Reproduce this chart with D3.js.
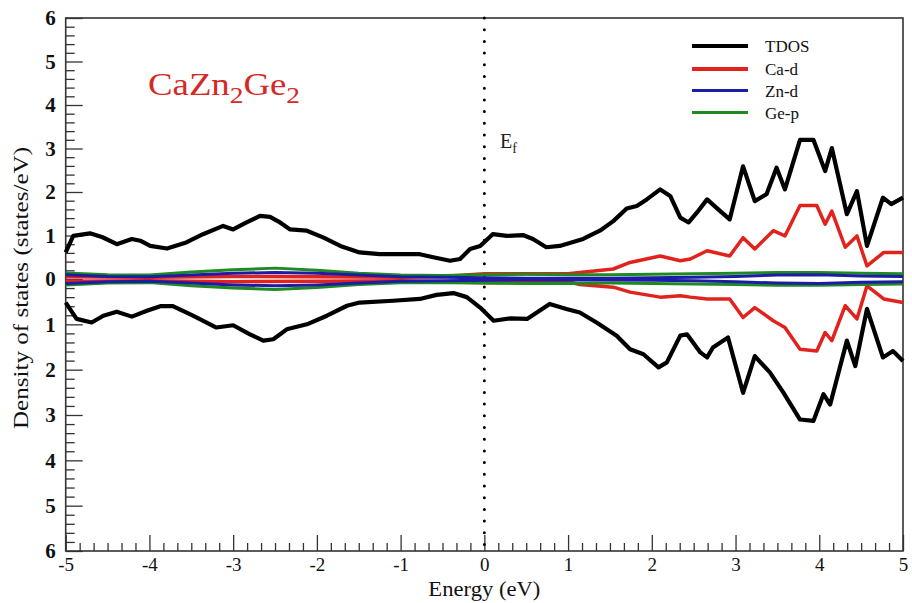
<!DOCTYPE html>
<html>
<head>
<meta charset="utf-8">
<script src="https://cdn.jsdelivr.net/npm/d3@7"></script>
<style>
  html, body { margin: 0; padding: 0; background: #fff; }
  svg { display: block; }
  svg text { font-family: "Liberation Serif", "Times New Roman", serif !important; }
</style>
</head>
<body>
<svg id="chart" width="912" height="603"></svg>
<script>
// Spin-resolved density of states of CaZn2Ge2 (spin up positive, spin down negative)

// Total DOS, spin up
const tdosUpE = [-5.0,-4.91,-4.71,-4.56,-4.39,-4.21,-4.11,-3.99,-3.79,-3.56,-3.36,-3.12,-3.00,-2.84,-2.68,-2.56,-2.44,-2.32,-2.12,-1.92,-1.72,-1.49,-1.25,-0.77,-0.61,-0.41,-0.29,-0.17,-0.05,0.10,0.27,0.46,0.58,0.74,0.90,1.18,1.38,1.54,1.70,1.82,1.94,2.10,2.22,2.34,2.44,2.54,2.66,2.77,2.93,3.09,3.23,3.37,3.49,3.59,3.77,3.93,4.07,4.15,4.33,4.45,4.57,4.76,4.86,5.0];
const tdosUp = [0.61,0.99,1.05,0.96,0.80,0.92,0.88,0.76,0.70,0.84,1.03,1.22,1.14,1.30,1.45,1.43,1.30,1.14,1.11,0.95,0.76,0.61,0.57,0.57,0.50,0.42,0.46,0.69,0.76,1.03,0.99,1.01,0.92,0.73,0.76,0.92,1.11,1.33,1.62,1.68,1.83,2.06,1.91,1.41,1.30,1.53,1.83,1.64,1.37,2.59,1.79,1.95,2.56,2.06,3.20,3.20,2.48,3.01,1.49,2.02,0.76,1.87,1.72,1.87];

// Total DOS, spin down
const tdosDnE = [-5.0,-4.87,-4.69,-4.55,-4.39,-4.21,-4.03,-3.87,-3.72,-3.48,-3.20,-3.00,-2.80,-2.64,-2.52,-2.36,-2.12,-1.88,-1.64,-1.49,-1.09,-0.77,-0.57,-0.37,-0.21,-0.05,0.11,0.31,0.51,0.78,0.98,1.14,1.34,1.58,1.74,1.90,2.08,2.18,2.34,2.42,2.58,2.66,2.73,2.91,3.09,3.23,3.41,3.57,3.77,3.93,4.05,4.13,4.33,4.43,4.57,4.76,4.88,5.0];
const tdosDn = [-0.52,-0.88,-0.96,-0.81,-0.72,-0.83,-0.70,-0.60,-0.60,-0.81,-1.07,-1.02,-1.22,-1.36,-1.33,-1.11,-1.00,-0.81,-0.59,-0.52,-0.48,-0.44,-0.35,-0.31,-0.40,-0.63,-0.92,-0.87,-0.88,-0.55,-0.66,-0.74,-0.96,-1.25,-1.55,-1.66,-1.95,-1.84,-1.25,-1.22,-1.62,-1.73,-1.51,-1.29,-2.51,-1.70,-2.06,-2.50,-3.10,-3.13,-2.54,-2.77,-1.36,-1.92,-0.66,-1.73,-1.59,-1.81];

// Ca-d partial DOS
const caE = [-5.0,-4.0,-3.0,-2.0,-1.0,-0.5,0.0,0.5,1.0,1.14,1.54,1.74,2.10,2.34,2.46,2.66,2.93,3.09,3.23,3.45,3.59,3.77,3.97,4.07,4.15,4.31,4.45,4.57,4.77,5.0];
const caUp = [0.05,0.04,0.06,0.05,0.04,0.06,0.12,0.12,0.12,0.15,0.23,0.38,0.53,0.42,0.46,0.65,0.53,0.95,0.69,1.11,0.99,1.69,1.69,1.26,1.56,0.73,0.99,0.30,0.61,0.61];
const caDn = [-0.05,-0.04,-0.06,-0.05,-0.04,-0.06,-0.08,-0.08,-0.06,-0.12,-0.18,-0.29,-0.40,-0.37,-0.40,-0.44,-0.44,-0.85,-0.63,-0.92,-1.07,-1.55,-1.59,-1.18,-1.36,-0.59,-0.88,-0.15,-0.44,-0.52];

// Zn-d and Ge-p partial DOS on a 0.5 eV grid
const pdosE = [-5.0,-4.5,-4.0,-3.5,-3.0,-2.5,-2.0,-1.5,-1.0,-0.5,0.0,0.5,1.0,1.5,2.0,2.5,3.0,3.5,4.0,4.5,5.0];
const znUp = [0.10,0.06,0.05,0.09,0.13,0.15,0.13,0.09,0.05,0.04,0.03,0.02,0.02,0.02,0.03,0.04,0.06,0.09,0.10,0.07,0.06];
const znDn = [-0.10,-0.06,-0.05,-0.09,-0.13,-0.15,-0.13,-0.09,-0.05,-0.04,-0.03,-0.02,-0.02,-0.02,-0.03,-0.04,-0.06,-0.09,-0.10,-0.07,-0.06];
const geUp = [0.14,0.10,0.09,0.16,0.21,0.25,0.20,0.13,0.09,0.08,0.10,0.11,0.10,0.10,0.11,0.12,0.13,0.15,0.15,0.13,0.12];
const geDn = [-0.13,-0.09,-0.08,-0.15,-0.20,-0.23,-0.19,-0.12,-0.08,-0.08,-0.09,-0.10,-0.10,-0.09,-0.10,-0.11,-0.12,-0.14,-0.14,-0.12,-0.11];

// Axis ticks
const xTicks = [-5,-4,-3,-2,-1,0,1,2,3,4,5];
const yTicks = [-6,-5,-4,-3,-2,-1,0,1,2,3,4,5,6];

// Legend entries
const legendNames = ["TDOS", "Ca-d", "Zn-d", "Ge-p"];
const legendColors = ["#000000", "#e2231d", "#1c1ca6", "#1f8a22"];

const serif = '"Liberation Serif", "Times New Roman", serif';
const svg = d3.select("#chart");
const plotL = 65.7, plotR = 903, plotT = 18, plotB = 551;

const x = d3.scaleLinear().domain([-5, 5]).range([plotL, plotR]);
const y = d3.scaleLinear().domain([-6, 0, 6]).range([plotB, 279, plotT]);

// minor ticks
const xMinor = d3.range(-5, 5.0001, 1 / 6).filter(v => Math.abs(v - Math.round(v)) > 1e-6);
const yMinor = d3.range(-6, 6.0001, 0.2).filter(v => Math.abs(v - Math.round(v)) > 1e-6);

const axisColor = "#333";

svg.append("g")
  .attr("transform", `translate(0,${plotB})`)
  .call(d3.axisBottom(x).tickValues(xMinor).tickSizeInner(-8).tickSizeOuter(0).tickFormat(""))
  .call(g => g.select(".domain").remove())
  .call(g => g.selectAll("line").attr("stroke", axisColor).attr("stroke-width", 1.3));

svg.append("g")
  .attr("transform", `translate(0,${plotB})`)
  .call(d3.axisBottom(x).tickValues(xTicks).tickSizeInner(-16).tickSizeOuter(0).tickPadding(5)
    .tickFormat(d => d))
  .call(g => g.select(".domain").remove())
  .call(g => g.selectAll("line").attr("stroke", axisColor).attr("stroke-width", 1.3))
  .call(g => g.selectAll("text")
    .style("font-family", serif).style("font-size", "19px").attr("fill", "#111")
    .attr("dy", "0.8em"));

svg.append("g")
  .attr("transform", `translate(${plotL},0)`)
  .call(d3.axisLeft(y).tickValues(yMinor).tickSizeInner(-9).tickSizeOuter(0).tickFormat(""))
  .call(g => g.select(".domain").remove())
  .call(g => g.selectAll("line").attr("stroke", axisColor).attr("stroke-width", 1.3));

svg.append("g")
  .attr("transform", `translate(${plotL},0)`)
  .call(d3.axisLeft(y).tickValues(yTicks).tickSizeInner(-17).tickSizeOuter(0).tickPadding(10)
    .tickFormat(d => Math.abs(d)))
  .call(g => g.select(".domain").remove())
  .call(g => g.selectAll("line").attr("stroke", axisColor).attr("stroke-width", 1.3))
  .call(g => g.selectAll("text")
    .style("font-family", serif).style("font-size", "21px").style("font-weight", "bold")
    .attr("fill", "#111"));

// frame
svg.append("rect")
  .attr("x", plotL).attr("y", plotT)
  .attr("width", plotR - plotL).attr("height", plotB - plotT)
  .attr("fill", "none").attr("stroke", axisColor).attr("stroke-width", 1.6);

// Fermi level
svg.append("line")
  .attr("x1", x(0)).attr("x2", x(0))
  .attr("y1", y(6)).attr("y2", y(-6))
  .attr("stroke", "#000").attr("stroke-width", 3)
  .attr("stroke-linecap", "round").attr("stroke-dasharray", "0 11.7");

const line = d3.line().x(d => x(d[0])).y(d => y(d[1]));
const zip = (a, b) => a.map((v, i) => [v, b[i]]);

const series = [
  { e: caE, v: caUp, color: legendColors[1], w: 3.5 },
  { e: caE, v: caDn, color: legendColors[1], w: 3.5 },
  { e: pdosE, v: geUp, color: legendColors[3], w: 3 },
  { e: pdosE, v: geDn, color: legendColors[3], w: 3 },
  { e: pdosE, v: znUp, color: legendColors[2], w: 3 },
  { e: pdosE, v: znDn, color: legendColors[2], w: 3 },
  { e: tdosUpE, v: tdosUp, color: legendColors[0], w: 4.2 },
  { e: tdosDnE, v: tdosDn, color: legendColors[0], w: 4.2 }
];

svg.append("g").selectAll("path")
  .data(series)
  .join("path")
  .attr("d", s => line(zip(s.e, s.v)))
  .attr("fill", "none")
  .attr("stroke", s => s.color)
  .attr("stroke-width", s => s.w)
  .attr("stroke-linejoin", "round");

// compound name
const title = svg.append("text")
  .attr("x", 148).attr("y", 95)
  .style("font-size", "31px").attr("fill", "#d42a26")
  .attr("textLength", 152).attr("lengthAdjust", "spacingAndGlyphs");
title.append("tspan").text("CaZn");
title.append("tspan").attr("dy", 8).style("font-size", "23px").text("2");
title.append("tspan").attr("dy", -8).text("Ge");
title.append("tspan").attr("dy", 8).style("font-size", "23px").text("2");

// Fermi label
const ef = svg.append("text").attr("x", 500).attr("y", 148).style("font-size", "20px").attr("fill", "#222");
ef.append("tspan").text("E");
ef.append("tspan").attr("dy", 5).style("font-size", "14px").text("f");

// legend
const legend = svg.append("g");
const legendY = [46, 69, 90.5, 112.5];
legendNames.forEach((name, i) => {
  legend.append("line")
    .attr("x1", 692).attr("x2", 748)
    .attr("y1", legendY[i]).attr("y2", legendY[i])
    .attr("stroke", legendColors[i]).attr("stroke-width", i < 2 ? 4 : 3);
  legend.append("text")
    .attr("x", 765).attr("y", legendY[i] + 6)
    .style("font-size", "17px").attr("fill", "#111")
    .text(name);
});

// axis titles
svg.append("text")
  .attr("x", x(0)).attr("y", 596)
  .attr("text-anchor", "middle").style("font-size", "20px").attr("fill", "#111")
  .attr("textLength", 112).attr("lengthAdjust", "spacingAndGlyphs")
  .text("Energy (eV)");

svg.append("text")
  .attr("transform", `translate(28,${288}) rotate(-90)`)
  .attr("text-anchor", "middle").style("font-size", "20px").attr("fill", "#111")
  .attr("textLength", 282).attr("lengthAdjust", "spacingAndGlyphs")
  .text("Density of states (states/eV)");
</script>
</body>
</html>
